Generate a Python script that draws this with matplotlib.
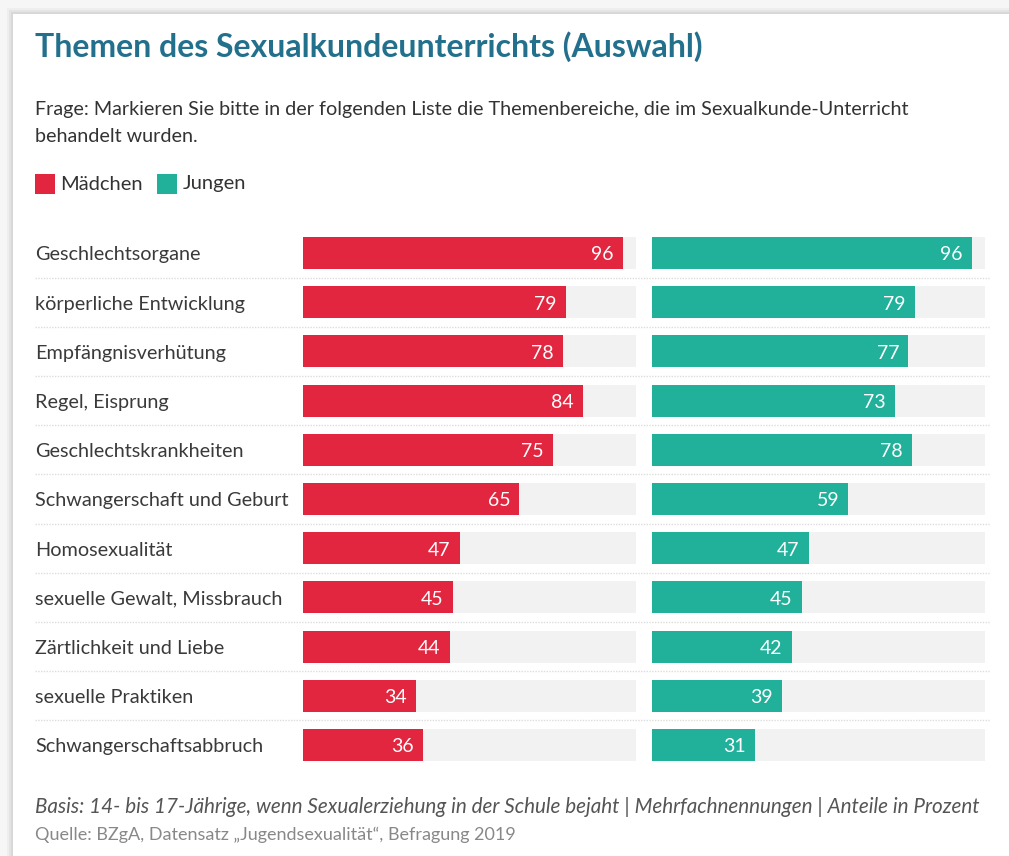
import numpy as np
import matplotlib.pyplot as plt
from matplotlib.patches import Rectangle

plt.rcParams['font.family'] = ['Lato', 'DejaVu Sans']

# Daten (Anteile in Prozent)
themen = ["Geschlechtsorgane", "körperliche Entwicklung", "Empfängnisverhütung",
          "Regel, Eisprung", "Geschlechtskrankheiten", "Schwangerschaft und Geburt",
          "Homosexualität", "sexuelle Gewalt, Missbrauch", "Zärtlichkeit und Liebe",
          "sexuelle Praktiken", "Schwangerschaftsabbruch"]
maedchen = [96, 79, 78, 84, 75, 65, 47, 45, 44, 34, 36]
jungen = [96, 79, 77, 73, 78, 59, 47, 45, 42, 39, 31]

ROT = "#e3263f"
TUERKIS = "#21b19b"
SPUR = "#f2f2f2"
W, H = 1009, 856

fig = plt.figure(figsize=(W / 100, H / 100), dpi=100)
fig.patch.set_facecolor("#f6f6f6")

def fx(px):
    return px / W

def fy(py):
    return 1 - py / H

# Karte mit leichtem Schatten
for i, a in enumerate([0.03, 0.04, 0.05]):
    d = 6 - 2 * i
    fig.add_artist(Rectangle((fx(13 - d), -0.1), 1.2, fy(14 - d) + 0.1, zorder=-10,
                             transform=fig.transFigure, color="black", alpha=a, lw=0))
fig.add_artist(Rectangle((fx(13), -0.1), 1.2, fy(14) + 0.1, zorder=-9,
                         transform=fig.transFigure, color="white", lw=0))

n = len(themen)
row = 49.2
top = 253 - row / 2
bottom = top + n * row
y = np.arange(n)

# Hintergrund-Achse für Beschriftungen und Trennlinien
bg = fig.add_axes([fx(35), fy(bottom), fx(990) - fx(35), fy(top) - fy(bottom)])
bg.set_xlim(0, 1)
bg.set_ylim(n - 0.5, -0.5)
bg.axis("off")
for k in range(n - 1):
    bg.axhline(k + 0.5, color="#dddddd", lw=1, ls=(0, (1, 1)))
for k, t in enumerate(themen):
    bg.text(0, k + 0.04, t, ha="left", va="center", fontsize=14.3, color="#3a3a3a")

def panel(x0, x1, werte, farbe):
    ax = fig.add_axes([fx(x0), fy(bottom), fx(x1) - fx(x0), fy(top) - fy(bottom)])
    ax.set_xlim(0, 100)
    ax.set_ylim(n - 0.5, -0.5)
    ax.axis("off")
    ax.barh(y, [100] * n, height=0.65, color=SPUR, lw=0)
    ax.barh(y, werte, height=0.65, color=farbe, lw=0)
    for k, v in enumerate(werte):
        ax.text(v - 2.8, k + 0.04, str(v), ha="right", va="center",
                fontsize=14, color="white")
    return ax

panel(303, 636, maedchen, ROT)
panel(652, 985, jungen, TUERKIS)

# Titel und Frage
fig.text(fx(35), fy(47), "Themen des Sexualkundeunterrichts (Auswahl)",
         fontsize=23, fontweight="bold", color="#23708d", va="center")
fig.text(fx(35), fy(110), "Frage: Markieren Sie bitte in der folgenden Liste die Themenbereiche, "
         "die im Sexualkunde-Unterricht", fontsize=14.2, color="#333333", va="center")
fig.text(fx(35), fy(136), "behandelt wurden.", fontsize=14.2, color="#333333", va="center")

# Legende
fig.add_artist(Rectangle((fx(35), fy(194)), fx(20), 20 / H, transform=fig.transFigure,
                         color=ROT, lw=0))
fig.text(fx(60), fy(184), "Mädchen", fontsize=14.5, color="#333333", va="center")
fig.add_artist(Rectangle((fx(157), fy(194)), fx(20), 20 / H, transform=fig.transFigure,
                         color=TUERKIS, lw=0))
fig.text(fx(183), fy(184), "Jungen", fontsize=14.5, color="#333333", va="center")

# Fußzeile
fig.text(fx(35), fy(807), "Basis: 14- bis 17-Jährige, wenn Sexualerziehung in der Schule bejaht "
         "| Mehrfachnennungen | Anteile in Prozent", fontsize=14.9, style="italic",
         color="#555555", va="center")
fig.text(fx(35), fy(835), "Quelle: BZgA, Datensatz „Jugendsexualität“, Befragung 2019",
         fontsize=13, color="#888888", va="center")

fig.savefig("out.png", dpi=100)
